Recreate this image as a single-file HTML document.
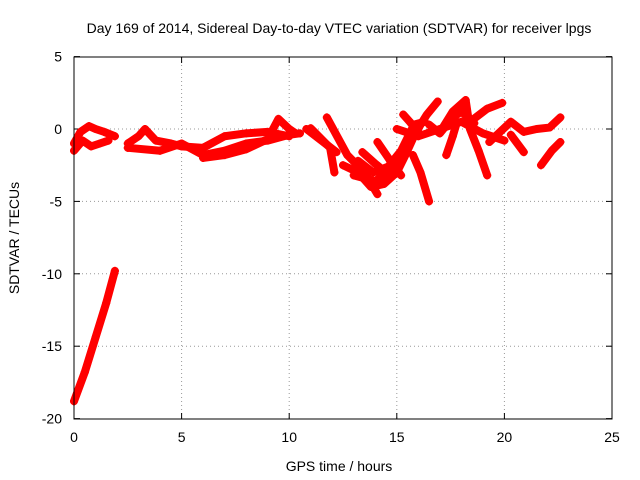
<!DOCTYPE html>
<html><head><meta charset="utf-8"><style>
body{margin:0;background:#fff;}
svg{display:block;font-family:"Liberation Sans",sans-serif;}
</style></head><body>
<svg id="chart" width="640" height="480">
<text x="339" y="33" font-size="14" text-anchor="middle">Day 169 of 2014, Sidereal Day-to-day VTEC variation (SDTVAR) for receiver lpgs</text>
<text x="339" y="471" font-size="14" text-anchor="middle">GPS time / hours</text>
<text transform="translate(19,238) rotate(-90)" font-size="14" text-anchor="middle">SDTVAR / TECUs</text>
<g id="grid"></g><g id="ticks"></g><g id="marks"></g>
<rect x="74" y="57" width="538" height="362" fill="none" stroke="#000"/>
</svg>
<script>
const xTicks=[0,5,10,15,20,25];
const yTicks=[5,0,-5,-10,-15,-20];
const track1=[[0,-18.8],[0.5,-16.8],[1,-14.4],[1.5,-12],[1.9,-9.8]];
const track2=[[0,-1],[0.3,-0.2],[0.7,0.2],[1,0],[1.4,-0.2],[1.9,-0.5]];
const track3=[[0,-1.5],[0.4,-0.8],[0.8,-1.2],[1.2,-1],[1.6,-0.8]];
const track4=[[2.5,-1],[3,-0.5],[3.3,0],[3.8,-0.8],[4.5,-1],[5,-1.2],[6,-1.3],[7,-0.5],[8,-0.3],[9,-0.2],[10,-0.5]];
const track5=[[2.5,-1.3],[4,-1.5],[5,-1],[6,-1.8],[7,-1.5],[8,-1],[9,-0.8],[10,-0.4],[10.5,-0.3]];
const track6=[[6,-2],[7,-1.8],[8,-1.4],[9,-0.7],[9.5,0.7],[10,0],[10.3,-0.3]];
const track7=[[11.75,0.8],[12.7,-1.8],[13.5,-3],[14.1,-4.5]];
const track8=[[11,0.05],[11.9,-1.3],[12.1,-3]];
const track9=[[13,-3.2],[14,-3.6],[15,-2.5],[15.6,-0.9],[16.4,1],[16.9,1.9]];
const track10=[[15.75,-1.8],[16.1,-3],[16.5,-5]];
const track11=[[13.4,-1.6],[14,-2.4],[14.5,-3]];
const track12=[[14.1,-0.9],[14.7,-2.2],[15.2,-3.2]];
const track13=[[15.3,1],[15.6,0.5],[16,-0.2]];
const track14=[[17.1,0],[17.6,1.2],[18.2,2],[18.4,0],[18.8,-1.5],[19.2,-3.2]];
const track15=[[17.3,-1.8],[17.6,-0.5],[17.8,0.5]];
const track16=[[18.4,0.5],[19.2,1.4],[19.9,1.8]];
const track17=[[19.3,-0.9],[20.3,0.5],[20.9,-0.2],[21.5,0],[22.1,0.1],[22.6,0.8]];
const track18=[[20.3,-0.4],[20.9,-1.6]];
const track19=[[21.7,-2.5],[22.2,-1.5],[22.6,-0.9]];
const track20=[[15,0],[16,-0.5],[17,0],[18,0.5],[19,-0.3],[20,-0.8]];
const track21=[[12.5,-2.5],[13.2,-3],[13.8,-4],[14.4,-3.8],[15,-3],[15.4,-1.8],[15.8,-0.5]];
const track22=[[13.2,-2.2],[13.9,-3],[14.6,-2.6],[15.2,-1.5],[15.8,0.3],[16.3,0.5]];
const track23=[[16.5,0.3],[17,-0.3],[17.6,0.8],[18,1.2],[18.6,0.4]];
const track24=[[10.8,0],[11.5,-0.8],[12.2,-1.6]];
const tracks=[track1,track2,track3,track4,track5,track6,track7,track8,track9,track10,track11,track12,track13,track14,track15,track16,track17,track18,track19,track20,track21,track22,track23,track24];
const X=v=>74+v*(538/25), Y=v=>129-v*(362/25);
const NS="http://www.w3.org/2000/svg";
const grid=document.getElementById('grid'),ticks=document.getElementById('ticks'),marks=document.getElementById('marks');
function mk(t,a,p){const e=document.createElementNS(NS,t);for(const k in a)e.setAttribute(k,a[k]);p.appendChild(e);return e;}
xTicks.forEach(v=>{const x=X(v);
 if(v>0&&v<25){const g=mk('line',{x1:x,x2:x,y1:57,y2:419,stroke:'#999','stroke-dasharray':'1,3'},grid);}
 mk('line',{x1:x,x2:x,y1:419,y2:413,stroke:'#000'},ticks);mk('line',{x1:x,x2:x,y1:57,y2:63,stroke:'#000'},ticks);
 const t=mk('text',{x:x,y:442,'font-size':14,'text-anchor':'middle'},ticks);t.textContent=v;
 });
yTicks.forEach(v=>{const y=Y(v);
 if(v<5&&v>-20){const g=mk('line',{x1:74,x2:612,y1:y,y2:y,stroke:'#999','stroke-dasharray':'1,3'},grid);}
 mk('line',{x1:74,x2:80,y1:y,y2:y,stroke:'#000'},ticks);mk('line',{x1:612,x2:606,y1:y,y2:y,stroke:'#000'},ticks);
 const t=mk('text',{x:62,y:y+5,'font-size':14,'text-anchor':'end'},ticks);t.textContent=v;
 });
tracks.forEach(tr=>{
 const p=mk('polyline',{points:tr.map(d=>X(d[0])+','+Y(d[1])).join(' '),fill:'none',stroke:'#f00','stroke-width':8,'stroke-linejoin':'round','stroke-linecap':'round'},marks);
 
 tr.forEach(d=>{const x=X(d[0]),y=Y(d[1]);
  const m=mk('path',{d:`M${x-4},${y}h8M${x},${y-4}v8`,stroke:'#f00','stroke-width':2},marks);
  });
});
</script>
</body></html>
